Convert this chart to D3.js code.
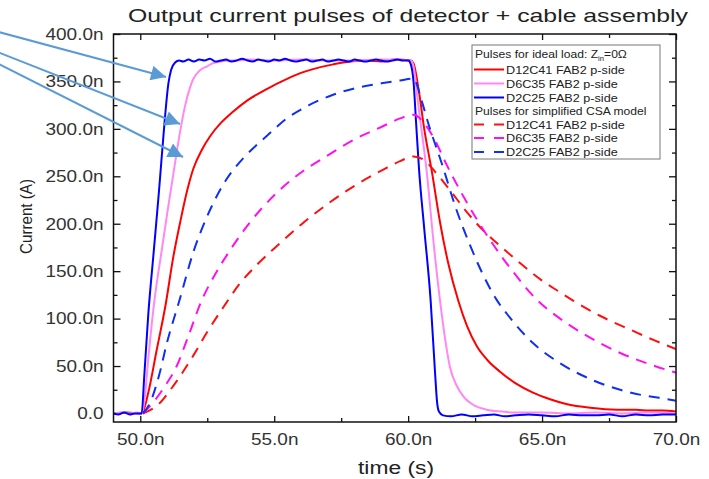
<!DOCTYPE html>
<html>
<head>
<meta charset="utf-8">
<script src="https://cdn.jsdelivr.net/npm/d3@7"></script>
<style>
  body { margin: 0; background: #fff; }
  text { font-family: "Liberation Sans", Arial, sans-serif; }
</style>
</head>
<body>
<script>
// pulses, time in ns, current in nA
var idealD12C41 = [[49,0],[49.5,1],[50.0,0],[50.1,2],[50.3,22],[50.6,65],[50.96,117],[51.22,163],[51.5,203],[51.75,235],[51.98,258],[52.3,278],[52.6,292],[53.0,306],[53.46,318],[54.0,330],[54.72,342],[55.5,353],[56.0,359],[56.45,363],[57.2,368],[57.83,371],[58.5,372],[59.0,371],[59.5,373],[60.1,372],[60.2,369],[60.4,340],[60.6,300],[60.88,256],[61.2,200],[61.5,158],[61.87,119],[62.2,92],[62.56,71],[63.0,55],[63.43,44],[64.0,32],[64.66,22],[65.3,15],[65.9,10],[66.8,6],[67.8,4],[68.5,4],[69.0,3],[69.5,3],[70,2]];
var idealD6C35 = [[49,0],[49.3,1],[49.6,0],[49.9,1],[50.05,0],[50.15,12],[50.3,58],[50.51,115],[50.8,172],[51.0,210],[51.22,250],[51.48,296],[51.67,324],[51.85,343],[51.97,352],[52.2,361],[52.5,366],[52.7,369],[53.0,371],[53.3,372],[53.6,372],[54.0,373],[55,372],[56,373],[57,372],[58,372],[59,373],[60.1,372],[60.2,366],[60.4,320],[60.69,256],[60.95,180],[61.19,119],[61.4,75],[61.56,49],[61.8,30],[62.06,18],[62.5,8],[62.93,4],[63.5,2],[64,1],[65,1],[66,0],[67,1],[68,0],[69,1],[70,0]];
var idealD2C25 = [[49.0,0],[49.2,-1],[49.4,1],[49.6,-1],[49.8,0],[50.05,0],[50.15,40],[50.3,105],[50.5,170],[50.7,235],[50.9,305],[51.05,348],[51.15,362],[51.3,370],[51.45,372],[51.6,371],[51.8,373],[52.0,371],[52.2,373],[52.4,372],[52.6,374],[52.8,371],[53.0,372],[53.2,373],[53.4,371],[53.6,372],[53.8,374],[54.0,372],[54.2,371],[54.4,373],[54.6,372],[54.8,371],[55.0,373],[55.2,372],[55.4,374],[55.6,372],[55.8,371],[56.0,372],[56.2,373],[56.4,371],[56.6,372],[56.8,373],[57.0,371],[57.2,372],[57.4,373],[57.6,372],[57.8,371],[58.0,373],[58.2,372],[58.4,371],[58.6,372],[58.8,373],[59.0,372],[59.2,371],[59.4,372],[59.6,373],[59.8,372],[60.0,372],[60.1,368],[60.2,350],[60.3,305],[60.41,256],[60.6,195],[60.84,119],[61.0,45],[61.08,12],[61.15,2],[61.3,-2],[61.6,-3],[62.0,-1],[62.4,-3],[62.8,-2],[63.2,-1],[63.6,-3],[64.0,-2],[64.5,-1],[65,-2],[65.5,-3],[66,-1],[66.5,-2],[67,-2],[67.5,-1],[68,-3],[68.5,-1],[69,-2],[69.5,-1],[70,-1]];

var csaD12C41 = [[50.1,0],[50.4,4],[50.73,11],[51.1,24],[51.48,39],[52.0,62],[52.48,85],[53.1,112],[53.72,137],[54.4,158],[55.0,174],[56.0,199],[57.0,221],[58.0,240],[59.0,256],[59.7,266],[60.2,271],[60.6,267],[61.0,255],[61.6,234],[62.2,212],[62.8,193],[63.5,175],[64.2,158],[65.0,140],[65.6,129],[66.16,119],[67.16,103],[68.4,87],[69.2,77],[70,68]];
var csaD6C35 = [[50.1,0],[50.49,12],[50.9,28],[51.36,50],[51.8,82],[52.29,119],[52.8,147],[53.35,172],[54.0,198],[55.0,230],[56.0,254],[57.0,272],[58.0,289],[59.0,302],[59.7,311],[60.2,315],[60.6,306],[61.0,288],[61.44,262],[62.0,232],[62.6,203],[63.2,177],[63.9,150],[64.8,120],[65.67,100],[66.66,82],[67.9,64],[69.0,52],[70,43]];
var csaD2C25 = [[50.1,0],[50.36,11],[50.7,40],[51.0,75],[51.46,119],[51.98,170],[52.5,208],[53.2,246],[53.91,271],[54.7,292],[55.47,311],[56.3,325],[57.2,336],[58.2,344],[59.0,348],[59.7,351],[60.2,353],[60.5,330],[60.75,306],[61.25,264],[61.8,215],[62.3,178],[62.8,146],[63.3,120],[63.8,101],[64.67,74],[65.67,53],[66.9,35],[68.16,23],[69.9,14],[70,13.5]];

var series = [idealD12C41, idealD6C35, idealD2C25, csaD12C41, csaD6C35, csaD2C25];
var seriesNames = ["D12C41 FAB2 p-side", "D6C35 FAB2 p-side", "D2C25 FAB2 p-side",
                   "D12C41 FAB2 p-side", "D6C35 FAB2 p-side", "D2C25 FAB2 p-side"];
var seriesColors = ["#ff0000", "#ff88f4", "#0000ff", "#ff1010", "#ff10f0", "#1030f0"];
var seriesDashed = [false, false, false, true, true, true];

var xTicks = [50, 55, 60, 65, 70];
var xMinor = [52.5, 57.5, 62.5, 67.5];
var yTicks = [0, 50, 100, 150, 200, 250, 300, 350, 400];
var yMinor = [25, 75, 125, 175, 225, 275, 325, 375];

var W = 709, H = 479;
var plotL = 113.5, plotR = 676, plotT = 34, plotB = 422;

// the source picture is a bit wider than tall, so text is stretched sideways
var stretch = function(sel, k) {
  sel.each(function() {
    var w = this.getComputedTextLength();
    d3.select(this).attr("textLength", w * k).attr("lengthAdjust", "spacingAndGlyphs");
  });
};

var svg = d3.select("body").append("svg")
  .attr("width", W)
  .attr("height", H);

svg.append("rect").attr("width", W).attr("height", H).attr("fill", "#fff");

var x = d3.scaleLinear().domain([49, 70]).range([plotL, plotR]);
var y = d3.scaleLinear().domain([-9, 400]).range([plotB, plotT]);

var defs = svg.append("defs");
defs.append("clipPath").attr("id", "plot")
  .append("rect")
  .attr("x", plotL).attr("y", plotT)
  .attr("width", plotR - plotL).attr("height", plotB - plotT);

// axes, ticks pointing inward
var fmtX = function(d) { return d.toFixed(1) + "n" };
var fmtY = function(d) { return d === 0 ? "0.0" : d.toFixed(1) + "n" };

svg.append("g").attr("transform", "translate(0," + plotB + ")")
  .call(d3.axisBottom(x).tickValues(xTicks).tickSize(-6).tickPadding(11).tickFormat(fmtX));
svg.append("g").attr("transform", "translate(0," + plotB + ")")
  .call(d3.axisBottom(x).tickValues(xMinor).tickSize(-4).tickFormat(""));
svg.append("g").attr("transform", "translate(0," + plotT + ")")
  .call(d3.axisTop(x).tickValues(xTicks).tickSize(-6).tickFormat(""));
svg.append("g").attr("transform", "translate(0," + plotT + ")")
  .call(d3.axisTop(x).tickValues(xMinor).tickSize(-4).tickFormat(""));

svg.append("g").attr("transform", "translate(" + plotL + ",0)")
  .call(d3.axisLeft(y).tickValues(yTicks).tickSize(-7).tickPadding(10).tickFormat(fmtY));
svg.append("g").attr("transform", "translate(" + plotL + ",0)")
  .call(d3.axisLeft(y).tickValues(yMinor).tickSize(-4).tickFormat(""));
svg.append("g").attr("transform", "translate(" + plotR + ",0)")
  .call(d3.axisRight(y).tickValues(yTicks).tickSize(-7).tickFormat(""));
svg.append("g").attr("transform", "translate(" + plotR + ",0)")
  .call(d3.axisRight(y).tickValues(yMinor).tickSize(-4).tickFormat(""));

svg.selectAll(".domain").remove();
svg.selectAll(".tick line").attr("stroke", "#111").attr("stroke-width", 1.3);
svg.selectAll(".tick text").attr("font-size", 16.5).attr("fill", "#333")
  .attr("font-family", "'Liberation Sans', Arial, sans-serif")
  .call(stretch, 1.15);

// curves
var line = d3.line()
  .curve(d3.curveMonotoneX)
  .x(function(d) { return x(d[0]) })
  .y(function(d) { return y(d[1]) });

svg.append("g").attr("clip-path", "url(#plot)")
  .selectAll("path")
  .data(series)
  .enter()
  .append("path")
  .attr("d", line)
  .attr("fill", "none")
  .attr("stroke", function(d, i) { return seriesColors[i] })
  .attr("stroke-width", 2)
  .attr("stroke-linejoin", "round")
  .attr("stroke-dasharray", function(d, i) { return seriesDashed[i] ? "11,8" : null });

// frame
svg.append("rect")
  .attr("x", plotL).attr("y", plotT)
  .attr("width", plotR - plotL).attr("height", plotB - plotT)
  .attr("fill", "none").attr("stroke", "#111").attr("stroke-width", 1.5);

// titles
svg.append("text")
  .attr("x", 128).attr("y", 22)
  .attr("font-size", 19).attr("fill", "#222")
  .attr("textLength", 560).attr("lengthAdjust", "spacingAndGlyphs")
  .text("Output current pulses of detector + cable assembly");

svg.append("text")
  .attr("x", 358).attr("y", 474)
  .attr("font-size", 18).attr("fill", "#222")
  .attr("textLength", 76).attr("lengthAdjust", "spacingAndGlyphs")
  .text("time (s)");

svg.append("text")
  .attr("transform", "translate(32,254) rotate(-90)")
  .attr("font-size", 16.5).attr("fill", "#222")
  .attr("textLength", 75).attr("lengthAdjust", "spacingAndGlyphs")
  .text("Current (A)");

// legend
var lg = svg.append("g");
lg.append("rect")
  .attr("x", 472).attr("y", 45).attr("width", 188).attr("height", 114)
  .attr("fill", "#fff").attr("stroke", "#777").attr("stroke-width", 1);

var head1 = lg.append("text").attr("x", 475).attr("y", 58).attr("font-size", 11).attr("fill", "#222");
head1.append("tspan").text("Pulses for ideal load: Z");
head1.append("tspan").attr("font-size", 7).attr("dy", 3).text("in");
head1.append("tspan").attr("dy", -3).text("=0\u03A9");

var head2 = lg.append("text").attr("x", 475).attr("y", 115).attr("font-size", 11).attr("fill", "#222")
  .text("Pulses for simplified CSA model");

var legendY = [69.5, 83.5, 97.5, 124.5, 138, 152];
var items = lg.selectAll(".item")
  .data(seriesNames)
  .enter()
  .append("g");

items.append("line")
  .attr("x1", 474).attr("x2", 504)
  .attr("y1", function(d, i) { return legendY[i] })
  .attr("y2", function(d, i) { return legendY[i] })
  .attr("stroke", function(d, i) { return seriesColors[i] })
  .attr("stroke-width", 2)
  .attr("stroke-dasharray", function(d, i) { return seriesDashed[i] ? "10,10" : null });

var itemText = items.append("text")
  .attr("x", 506).attr("y", function(d, i) { return legendY[i] + 4 })
  .attr("font-size", 11.2).attr("fill", "#222")
  .text(function(d) { return d });

head1.call(stretch, 1.1);
head2.call(stretch, 1.1);
itemText.call(stretch, 1.13);

// callout arrows
var arrowFrom = [[-5, 31], [-5, 51], [-5, 62]];
var arrowTo = [[166, 77], [180, 124], [183, 157]];

defs.append("marker")
  .attr("id", "head")
  .attr("viewBox", "0 0 10 10")
  .attr("refX", 10).attr("refY", 5)
  .attr("markerWidth", 9).attr("markerHeight", 7.5)
  .attr("markerUnits", "strokeWidth")
  .attr("orient", "auto")
  .append("path")
  .attr("d", "M0,0L10,5L0,10z")
  .attr("fill", "#5b9bd5");

svg.append("g").selectAll("line")
  .data(arrowTo)
  .enter()
  .append("line")
  .attr("x1", function(d, i) { return arrowFrom[i][0] })
  .attr("y1", function(d, i) { return arrowFrom[i][1] })
  .attr("x2", function(d) { return d[0] })
  .attr("y2", function(d) { return d[1] })
  .attr("stroke", "#5b9bd5")
  .attr("stroke-width", 2)
  .attr("marker-end", "url(#head)");
</script>
</body>
</html>
